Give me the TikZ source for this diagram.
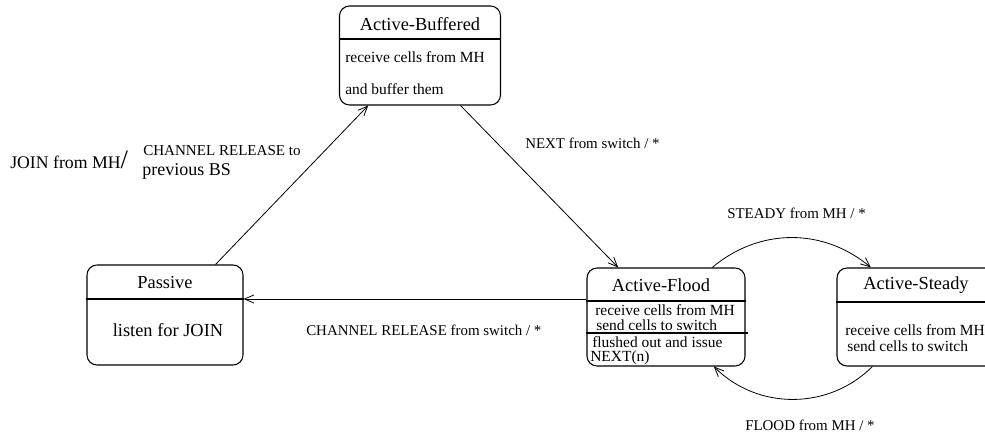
\documentclass[tikz,border=0pt]{standalone}
\usepackage{fontspec}
\setmainfont{Liberation Serif}
\usetikzlibrary{arrows.meta}
\tikzstyle{stateBox}=[draw, rounded corners = 7.5pt, line width = 0.8pt, inner sep = 0pt]
\tikzstyle{stateTitle}=[inner sep = 0pt, font = \fontsize{13.8}{15}\selectfont]
\tikzstyle{stateText}=[inner sep = 0pt, anchor = west, font = \fontsize{11.6}{13}\selectfont]
\tikzstyle{edgeLabel}=[inner sep = 0pt, anchor = west, font = \fontsize{11.2}{13}\selectfont]
\tikzstyle{transition}=[-{Straight Barb[length = 7pt, width = 6pt]}, line width = 0.6pt]

\begin{document}
\begin{tikzpicture}[x = 0.75pt, y = -0.75pt]
\useasboundingbox (0,0) rectangle (985,438);
% states
\node[stateBox, minimum width = 120.75pt, minimum height = 74.25pt] (vBuffered) at (420,55.5) {};
\node[stateBox, minimum width = 117pt, minimum height = 75pt] (vPassive) at (165,315) {};
\node[stateBox, minimum width = 118.5pt, minimum height = 73.5pt] (vFlood) at (666,317) {};
\node[stateBox, minimum width = 120pt, minimum height = 73.5pt] (vSteady) at (917,317) {};
\draw[line width = 0.8pt] (vBuffered.west |- 0,39) -- (vBuffered.east |- 0,39);
\draw[line width = 0.8pt] (vPassive.west |- 0,299) -- (vPassive.east |- 0,299);
\draw[line width = 0.8pt] (vFlood.west |- 0,301) -- (vFlood.east |- 0,301);
\draw[line width = 0.8pt] (vFlood.west |- 0,333) -- ([xshift = 1.5pt]vFlood.east |- 0,333);
\draw[line width = 0.8pt] (vSteady.west |- 0,302) -- (vSteady.east |- 0,302);
% texts of the states
\node[stateTitle] (bTitle) at (420,24) {Active-Buffered};
\node[stateText] (bLine1) at (345,57) {receive cells from MH};
\node[stateText] (bLine2) at (345,89) {and buffer them};
\node[stateTitle] (pTitle) at (165,282) {Passive};
\node[stateTitle] (pLine1) at (168,330) {listen for JOIN};
\node[stateTitle] (fTitle) at (661,285) {Active-Flood};
\node[stateText] (fLine1) at (595,310) {receive cells from MH};
\node[stateText] (fLine2) at (596,325) {send cells to switch};
\node[stateText] (fLine3) at (592,342) {flushed out and issue};
\node[stateText] (fLine4) at (590,358) {NEXT(n)};
\node[stateTitle] (sTitle) at (916,285) {Active-Steady};
\node[stateText] (sLine1) at (845,330) {receive cells from MH};
\node[stateText] (sLine2) at (847,346) {send cells to switch};
% transitions
\draw[transition] (vPassive.45) -- (vBuffered.224);
\draw[transition] (vBuffered.309) -- (vFlood.134);
\draw[transition] (vFlood.west |- 0,299) -- (vPassive.east |- 0,299);
\draw[transition] (vFlood.47) to[bend left = 40] (vSteady.133);
\draw[transition] (vSteady.228) to[bend left = 45] (vFlood.314);
% labels
\node[edgeLabel, font = \fontsize{13.3}{15}\selectfont] (lJoin) at (10,160) {JOIN from MH{\fontsize{20}{20}\selectfont/}};
\node[edgeLabel, font = \fontsize{11.3}{13}\selectfont] (lRelease) at (143,151) {CHANNEL RELEASE to};
\node[edgeLabel, font = \fontsize{13.5}{15}\selectfont] (lPrevious) at (142,171) {previous BS};
\node[edgeLabel] (lNext) at (525,143) {NEXT from switch / *};
\node[edgeLabel] (lSteady) at (727,213) {STEADY from MH / *};
\node[edgeLabel] (lFlood) at (745,425) {FLOOD from MH / *};
\node[edgeLabel] (lChannel) at (306,330) {CHANNEL RELEASE from switch / *};
\end{tikzpicture}
\end{document}
